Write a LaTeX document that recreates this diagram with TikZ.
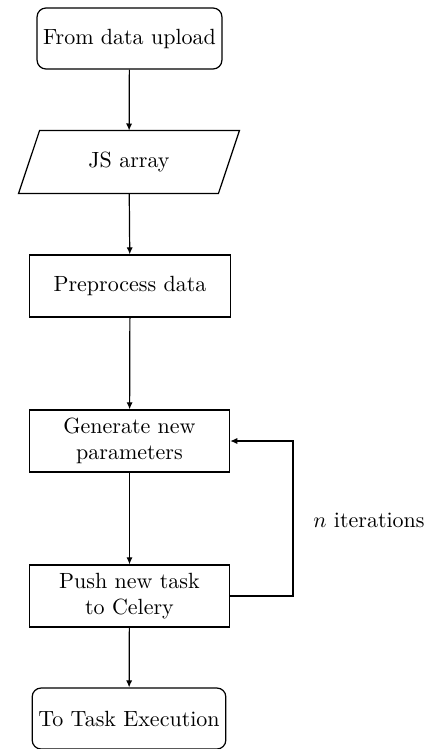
\documentclass[tikz,border=0pt]{standalone}
\usetikzlibrary{arrows.meta}
\begin{document}
\begin{tikzpicture}[x=0.4545pt,y=-0.4545pt,
  every node/.style={font=\normalsize},
  startstop/.style={draw,rounded corners=4pt,minimum height=27.7pt,inner sep=2pt,line width=0.55pt},
  procbox/.style={draw,minimum width=91pt,minimum height=28.2pt,align=center,inner sep=1pt,line width=0.55pt},
  iobox/.style={minimum width=100pt,minimum height=28.2pt,inner sep=1pt},
  conn/.style={-{Latex[length=3.2pt,width=2.8pt]},line width=0.55pt}]
\useasboundingbox (0,0) rectangle (431,749);
\node[startstop,minimum width=84pt] (start) at (129.5,38.5) {From data upload};
\node[iobox] (js) at (129,162) {JS array};
\draw[line width=0.55pt] ([xshift=21*0.4545pt]js.north west) -- (js.north east)
  -- ([xshift=-21*0.4545pt]js.south east) -- (js.south west) -- cycle;
\node[procbox] (pre) at (130,286) {Preprocess data};
\node[procbox] (gen) at (129.5,441) {Generate new\\parameters};
\node[procbox] (push) at (129.5,596) {Push new task\\to Celery};
\node[startstop,minimum width=88pt] (end) at (129,718.5) {To Task Execution};
\coordinate (loop) at (293,596);
\draw[conn] (start) -- (js);
\draw[conn] (js) -- (pre);
\draw[conn] (pre) -- (gen);
\draw[conn] (gen) -- (push);
\draw[conn] (push) -- (end);
\draw[conn] (push.east) -- (loop) |- (gen.east);
\node (lbl) at (369,520) {$n$ iterations};
\end{tikzpicture}
\end{document}
